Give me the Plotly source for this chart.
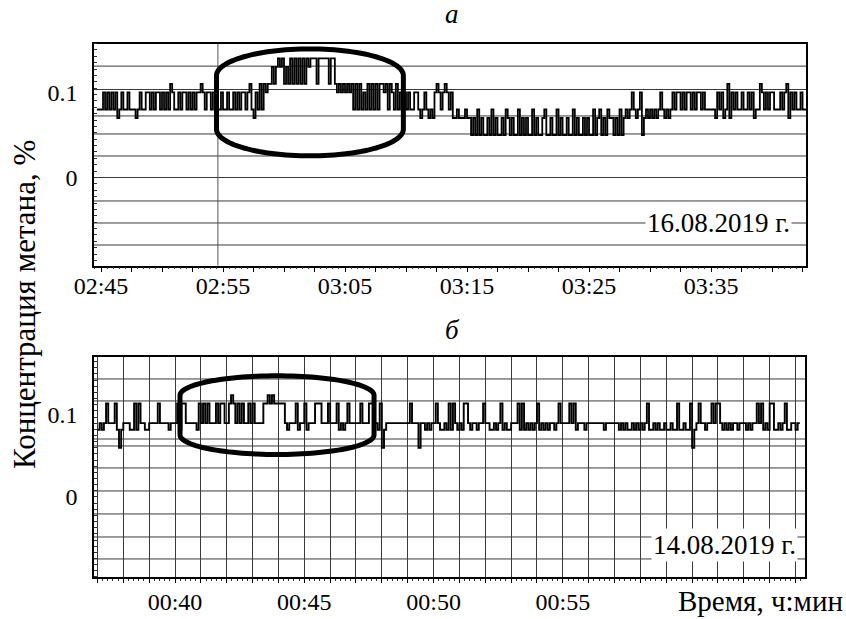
import math
import plotly.graph_objects as go

FONT = "Liberation Serif, Times New Roman, serif"

# ---------------- panel а : 16.08.2019 ----------------
TOP_START = "02:44:40"      # first sample
TOP_STEP_S = 10             # seconds between samples
# methane concentration, hundredths of a percent
TOP_VALUES = [
    8, 8, 8, 10, 8, 10, 8, 10, 8, 10, 7, 8, 10, 8, 8, 10, 8, 8, 8, 7, 8, 10, 8, 8, 10, 10, 8, 10, 8, 10,
    10, 8, 10, 8, 10, 8, 11, 10, 8, 8, 10, 8, 10, 10, 8, 10, 8, 10, 8, 10, 10, 11, 10, 8, 10, 10, 8, 10, 8, 8,
    8, 10, 8, 8, 10, 8, 8, 10, 8, 10, 8, 10, 10, 8, 10, 11, 8, 7, 10, 8, 11, 8, 11, 10, 11, 11, 13, 11, 13, 14,
    13, 14, 11, 13, 11, 14, 11, 14, 11, 14, 11, 14, 11, 14, 13, 14, 14, 14, 11, 14, 14, 14, 14, 14, 11, 14, 14, 11, 10, 11,
    10, 11, 10, 11, 10, 11, 8, 11, 8, 11, 8, 10, 8, 11, 8, 11, 8, 11, 8, 11, 11, 10, 11, 8, 11, 10, 8, 11, 8, 10,
    8, 10, 8, 10, 8, 8, 10, 10, 8, 7, 8, 10, 8, 7, 8, 7, 10, 11, 10, 8, 10, 11, 10, 8, 10, 7, 7, 8, 7, 7,
    7, 8, 7, 7, 5, 7, 5, 8, 5, 7, 5, 5, 7, 5, 8, 5, 7, 5, 5, 7, 5, 8, 7, 5, 7, 5, 5, 8, 5, 7,
    5, 7, 5, 5, 8, 5, 7, 5, 5, 7, 8, 5, 5, 7, 5, 5, 8, 5, 7, 5, 5, 7, 5, 5, 8, 5, 7, 5, 5, 7,
    5, 7, 5, 5, 8, 5, 7, 8, 5, 7, 5, 8, 7, 7, 5, 7, 5, 8, 5, 7, 8, 7, 8, 10, 8, 7, 8, 10, 5, 7,
    8, 7, 8, 7, 8, 7, 8, 10, 8, 7, 8, 7, 8, 10, 8, 10, 10, 8, 10, 8, 10, 10, 8, 10, 8, 10, 10, 8, 10, 8,
    8, 8, 8, 8, 7, 10, 8, 10, 7, 8, 11, 7, 10, 8, 10, 8, 8, 10, 8, 8, 10, 8, 10, 7, 8, 8, 11, 10, 8, 10,
    8, 10, 10, 8, 8, 8, 10, 8, 10, 11, 7, 10, 8, 10, 8, 8, 10, 8, 8, 8,
]
TOP_TICK_LABELS = ["02:45", "02:55", "03:05", "03:15", "03:25", "03:35"]
TOP_RANGE_X = ("02:44:25.6", "03:42:47")
TOP_RANGE_Y = (-0.1035, 0.1576)
TOP_MARKER = "02:54:35"
TOP_GRID_Y = [0.131, 0.1035, 0.0724, 0.0512, 0.0253, 0.0, -0.0276, -0.0535, -0.0794]
TOP_HIGHLIGHT = ("02:54:28", "03:09:47", 0.0255, 0.1512)
TOP_DATE = "16.08.2019 г."

# ---------------- panel б : 14.08.2019 ----------------
BOT_START = "00:37:00"
BOT_STEP_S = 5
# methane concentration, thousandths of a percent
BOT_VALUES = [
    82, 90, 82, 90, 114, 90, 90, 90, 114, 82, 60, 82,
    90, 90, 90, 82, 82, 114, 82, 114, 90, 90, 82, 82,
    90, 90, 90, 90, 114, 90, 90, 90, 90, 82, 90, 90,
    90, 114, 82, 114, 114, 90, 90, 90, 90, 90, 82, 114,
    90, 114, 90, 114, 90, 90, 90, 114, 90, 114, 114, 90,
    90, 114, 124, 114, 90, 114, 90, 114, 90, 90, 114, 90,
    114, 90, 90, 90, 90, 114, 114, 124, 114, 124, 114, 114,
    114, 114, 114, 90, 82, 90, 90, 90, 114, 82, 90, 90,
    114, 82, 90, 90, 90, 114, 114, 114, 90, 90, 90, 114,
    90, 90, 90, 114, 82, 90, 82, 90, 114, 90, 90, 90,
    90, 90, 114, 90, 90, 90, 114, 114, 90, 90, 82, 114,
    60, 82, 90, 90, 90, 90, 90, 90, 90, 90, 90, 90,
    90, 114, 90, 90, 90, 60, 90, 90, 82, 90, 82, 90,
    90, 114, 90, 82, 82, 90, 82, 114, 82, 114, 90, 82,
    90, 82, 114, 114, 90, 82, 90, 90, 82, 90, 90, 114,
    90, 90, 82, 82, 90, 82, 90, 114, 82, 90, 82, 82,
    90, 90, 90, 114, 82, 114, 82, 90, 82, 90, 82, 90,
    114, 82, 90, 82, 90, 82, 90, 90, 82, 90, 114, 90,
    90, 90, 90, 114, 90, 114, 82, 90, 90, 90, 82, 90,
    90, 90, 90, 90, 90, 90, 90, 82, 90, 90, 90, 90,
    90, 90, 82, 90, 82, 90, 82, 82, 90, 82, 90, 82,
    90, 82, 90, 114, 82, 82, 90, 82, 90, 82, 82, 90,
    82, 82, 90, 82, 82, 114, 82, 82, 90, 82, 82, 114,
    60, 82, 90, 114, 90, 90, 82, 90, 90, 114, 90, 114,
    114, 90, 82, 90, 82, 90, 82, 90, 90, 82, 90, 90,
    90, 82, 90, 82, 90, 90, 114, 90, 114, 82, 90, 82,
    114, 114, 82, 82, 90, 82, 90, 114, 82, 82, 90, 90,
    82, 90, 90,
]
BOT_TICK_LABELS = ["00:40", "00:45", "00:50", "00:55"]
BOT_RANGE_X = ("00:36:52", "01:04:22")
BOT_RANGE_Y = (-0.0976, 0.1707)
BOT_GRID_Y = [0.1439, 0.1171, 0.0707, 0.0622, 0.0354, 0.0073, -0.0207, -0.0488, -0.0756]
BOT_HIGHLIGHT = ("00:40:11.6", "00:47:41.9", 0.0518, 0.1478)
BOT_DATE = "14.08.2019 г."

Y_TICKS = [0, 0.1]
Y_TICK_TEXT = ["0", "0.1"]
Y_TITLE = "Концентрация метана, %"
X_TITLE = "Время, ч:мин"
PANEL_LETTERS = ["а", "б"]


def minutes(hms):
    parts = [float(p) for p in hms.split(":")]
    while len(parts) < 3:
        parts.append(0.0)
    return parts[0] * 60 + parts[1] + parts[2] / 60


def series(start, step_s, vals, scale):
    t0 = minutes(start)
    xs = [t0 + i * step_s / 60 for i in range(len(vals))]
    ys = [v / scale for v in vals]
    return xs, ys


def capsule(t0, t1, y0, y1, straight=0.52, npts=60):
    """Closed outline: straight vertical sides joined by half-elliptic caps."""
    cx, cy = (t0 + t1) / 2, (y0 + y1) / 2
    a, b = (t1 - t0) / 2, (y1 - y0) / 2
    s = b * straight
    cap = b - s
    pts = []
    for k in range(npts + 1):          # top cap, right -> left
        th = math.pi * k / npts
        pts.append((cx + a * math.cos(th), cy + s + cap * math.sin(th)))
    for k in range(npts + 1):          # bottom cap, left -> right
        th = math.pi + math.pi * k / npts
        pts.append((cx + a * math.cos(th), cy - s + cap * math.sin(th)))
    return "M " + " L ".join(f"{x:.5f},{y:.6f}" for x, y in pts) + " Z"


W, H = 846, 619
# plot boxes in pixels (left, right, top, bottom)
TOP_BOX = (94, 806, 43.5, 265.5)
BOT_BOX = (94, 805, 357, 577)


def dom_x(box):
    return [box[0] / W, box[1] / W]


def dom_y(box):
    return [1 - box[3] / H, 1 - box[2] / H]


fig = go.Figure()

tx, ty = series(TOP_START, TOP_STEP_S, TOP_VALUES, 100.0)
bx, by = series(BOT_START, BOT_STEP_S, BOT_VALUES, 1000.0)

fig.add_trace(go.Scatter(x=tx, y=ty, mode="lines", line=dict(color="black", width=1.8, shape="hv"),
                         xaxis="x", yaxis="y", showlegend=False, hoverinfo="skip"))
fig.add_trace(go.Scatter(x=bx, y=by, mode="lines", line=dict(color="black", width=1.9, shape="hv"),
                         xaxis="x2", yaxis="y2", showlegend=False, hoverinfo="skip"))

# --- x tick positions
top_lab = [minutes(s) for s in TOP_TICK_LABELS]
top_tickvals, top_ticktext = [], []
for idx, v in enumerate(top_lab):
    for j in range(4):
        top_tickvals.append(v + 2.5 * j)
        top_ticktext.append(TOP_TICK_LABELS[idx] if j == 0 else "")

bot_lab = [minutes(s) for s in BOT_TICK_LABELS]
bx0, bx1 = minutes(BOT_RANGE_X[0]), minutes(BOT_RANGE_X[1])
bot_tickvals, bot_ticktext = [], []
m = int(bx0) + 1
while m <= bx1:
    bot_tickvals.append(float(m))
    bot_ticktext.append(BOT_TICK_LABELS[bot_lab.index(m)] if m in bot_lab else "")
    m += 1

tick_font = dict(family=FONT, size=24, color="black")
common_x = dict(showline=True, mirror=True, linecolor="black", linewidth=1.6, zeroline=False,
                automargin=False, ticks="outside", tickcolor="black", tickfont=tick_font,
                tickmode="array")
common_y = dict(showline=True, mirror=True, linecolor="black", linewidth=1.6, zeroline=False,
                automargin=False, showgrid=False, ticks="", tickmode="array", tickvals=Y_TICKS,
                ticktext=Y_TICK_TEXT, tickfont=tick_font, ticklabelstandoff=10,
                minor=dict(ticks="inside", ticklen=3, tickcolor="#333", dtick=0.0075, tick0=0,
                           showgrid=False))

fig.update_layout(
    template="none",
    width=W, height=H, margin=dict(l=0, r=0, t=0, b=0, pad=0, autoexpand=False),
    paper_bgcolor="white", plot_bgcolor="white",
    font=dict(family=FONT, color="black"),
    xaxis=dict(domain=dom_x(TOP_BOX), anchor="y",
               range=[minutes(TOP_RANGE_X[0]), minutes(TOP_RANGE_X[1])],
               tickvals=top_tickvals, ticktext=top_ticktext, ticklen=5, showgrid=False,
               ticklabelstandoff=-7,
               minor=dict(ticks="outside", ticklen=2, dtick=0.5, tick0=165, tickcolor="#333",
                          showgrid=False),
               **common_x),
    yaxis=dict(domain=dom_y(TOP_BOX), anchor="x", range=list(TOP_RANGE_Y), **common_y),
    xaxis2=dict(domain=dom_x(BOT_BOX), anchor="y2",
                range=[bx0, bx1], tickvals=bot_tickvals, ticktext=bot_ticktext, ticklen=4,
                showgrid=True, gridcolor="#3a3a3a", gridwidth=1, ticklabelstandoff=-2,
                minor=dict(ticks="outside", ticklen=2, dtick=0.2, tick0=0, tickcolor="#333",
                           showgrid=False),
                **common_x),
    yaxis2=dict(domain=dom_y(BOT_BOX), anchor="x2", range=list(BOT_RANGE_Y), **common_y),
)

shapes = []
for gy in TOP_GRID_Y:
    shapes.append(dict(type="line", xref="x domain", yref="y", x0=0, x1=1, y0=gy, y1=gy,
                       line=dict(color="#3a3a3a", width=1), layer="below"))
for gy in BOT_GRID_Y:
    shapes.append(dict(type="line", xref="x2 domain", yref="y2", x0=0, x1=1, y0=gy, y1=gy,
                       line=dict(color="#3a3a3a", width=1), layer="below"))
shapes.append(dict(type="line", xref="x", yref="y domain", x0=minutes(TOP_MARKER),
                   x1=minutes(TOP_MARKER), y0=0, y1=1, line=dict(color="#555", width=1),
                   layer="below"))
h = TOP_HIGHLIGHT
shapes.append(dict(type="path", xref="x", yref="y",
                   path=capsule(minutes(h[0]), minutes(h[1]), h[2], h[3], straight=0.5),
                   line=dict(color="black", width=5)))
h = BOT_HIGHLIGHT
shapes.append(dict(type="path", xref="x2", yref="y2",
                   path=capsule(minutes(h[0]), minutes(h[1]), h[2], h[3], straight=0.5),
                   line=dict(color="black", width=5)))
fig.update_layout(shapes=shapes)

ann_font = dict(family=FONT, size=27, color="black")
annotations = [
    dict(text=TOP_DATE, xref="x domain", yref="y domain", x=(718 - 94) / 712, y=(265.5 - 223) / 222,
         xanchor="center", yanchor="middle", showarrow=False, font=ann_font, bgcolor="white",
         borderpad=1),
    dict(text=BOT_DATE, xref="x2 domain", yref="y2 domain", x=(724 - 94) / 711, y=(577 - 545) / 220,
         xanchor="center", yanchor="middle", showarrow=False, font=ann_font, bgcolor="white",
         borderpad=1),
    dict(text=PANEL_LETTERS[0], xref="paper", yref="paper", x=452 / W, y=1 - 14 / H,
         xanchor="center", yanchor="middle", showarrow=False,
         font=dict(family=FONT, size=27, color="black", style="italic")),
    dict(text=PANEL_LETTERS[1], xref="paper", yref="paper", x=452 / W, y=1 - 330 / H,
         xanchor="center", yanchor="middle", showarrow=False,
         font=dict(family=FONT, size=27, color="black", style="italic")),
    dict(text=Y_TITLE, xref="paper", yref="paper", x=25 / W, y=1 - 305 / H, textangle=-90,
         xanchor="center", yanchor="middle", showarrow=False,
         font=dict(family=FONT, size=31, color="black")),
    dict(text=X_TITLE, xref="paper", yref="paper", x=845 / W, y=1 - 601 / H,
         xanchor="right", yanchor="middle", showarrow=False,
         font=dict(family=FONT, size=29, color="black")),
]
fig.update_layout(annotations=annotations)

fig.write_html(
    "out.html",
    config={"displayModeBar": False},
    post_script="document.body.style.margin='0px';document.body.style.overflow='hidden';",
)
